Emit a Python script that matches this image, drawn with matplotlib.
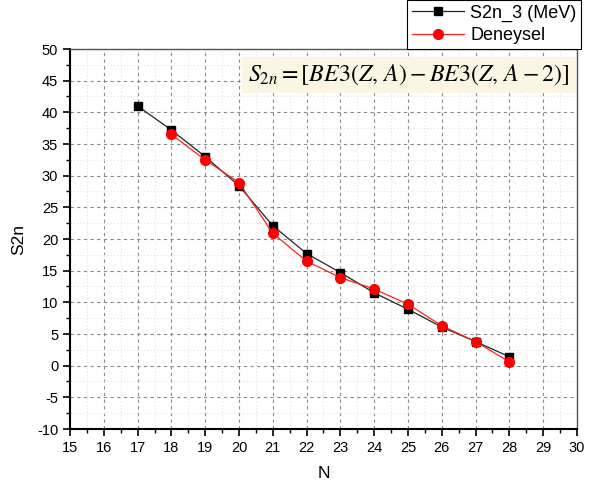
import matplotlib
matplotlib.use("Agg")
import matplotlib.pyplot as plt
from matplotlib.ticker import MultipleLocator

plt.rcParams['font.family'] = ['Liberation Sans', 'DejaVu Sans']
plt.rcParams['mathtext.fontset'] = 'stix'
plt.rcParams['axes.unicode_minus'] = False

N = [17, 18, 19, 20, 21, 22, 23, 24, 25, 26, 27, 28]
s2n_3 = [41.0, 37.2, 33.0, 28.4, 22.1, 17.7, 14.7, 11.5, 8.9, 6.1, 3.8, 1.4]
N_exp = [18, 19, 20, 21, 22, 23, 24, 25, 26, 27, 28]
deneysel = [36.5, 32.5, 28.9, 20.9, 16.5, 13.9, 12.1, 9.7, 6.3, 3.8, 0.6]

fig = plt.figure(figsize=(5.94, 4.86), dpi=100)
ax = fig.add_axes([70/594, 1-429/486, (577-70)/594, (429-49)/486])

ax.plot(N, s2n_3, color='#222222', lw=0.9, marker='s', ms=6,
        mfc='black', mec='black', label='S2n_3 (MeV)', zorder=3)
ax.plot(N_exp, deneysel, color='#ff2020', lw=0.9, marker='o', ms=7,
        mfc='#ff0000', mec='#ff0000', label='Deneysel', zorder=4)

ax.set_xlim(15, 30)
ax.set_ylim(-10, 50)
ax.xaxis.set_major_locator(MultipleLocator(1))
ax.xaxis.set_minor_locator(MultipleLocator(0.5))
ax.yaxis.set_major_locator(MultipleLocator(5))
ax.yaxis.set_minor_locator(MultipleLocator(2.5))

ax.grid(which='major', color='#8a8a8a', ls=(0, (3, 3)), lw=0.8)
ax.grid(which='minor', color='#e2e2e2', ls=(0, (1, 2)), lw=0.8)
ax.set_axisbelow(True)

ax.tick_params(which='major', direction='out', length=5, width=1.2,
               labelsize=10.5, colors='black', top=False, right=False)
ax.tick_params(which='minor', direction='out', length=3, width=1.0,
               top=False, right=False)
for s in ['left', 'bottom']:
    ax.spines[s].set_linewidth(1.5)
    ax.spines[s].set_color('black')
for s in ['top', 'right']:
    ax.spines[s].set_linewidth(1.0)
    ax.spines[s].set_color('#555555')

ax.set_xlabel('N', fontsize=12.5, labelpad=8)
ax.set_ylabel('S2n', fontsize=12.5, labelpad=8)

ax.text(0.352, 0.932,
        r'$S_{2n}=\left[BE3(Z,\,A) - BE3(Z,\,A-2)\right]$',
        transform=ax.transAxes, fontsize=17.2, va='center', ha='left',
        bbox=dict(boxstyle='square,pad=0.25', fc='#fcf5e4', ec='none'),
        zorder=5)

leg = fig.legend(loc='upper right', bbox_to_anchor=(581/594, 1.0),
                 fontsize=13, frameon=True, fancybox=False,
                 edgecolor='black', framealpha=1, borderpad=0.25,
                 labelspacing=0.3, handlelength=2.9, handletextpad=0.35,
                 borderaxespad=0)
leg.get_frame().set_linewidth(0.8)

fig.savefig('out.png', dpi=100)
